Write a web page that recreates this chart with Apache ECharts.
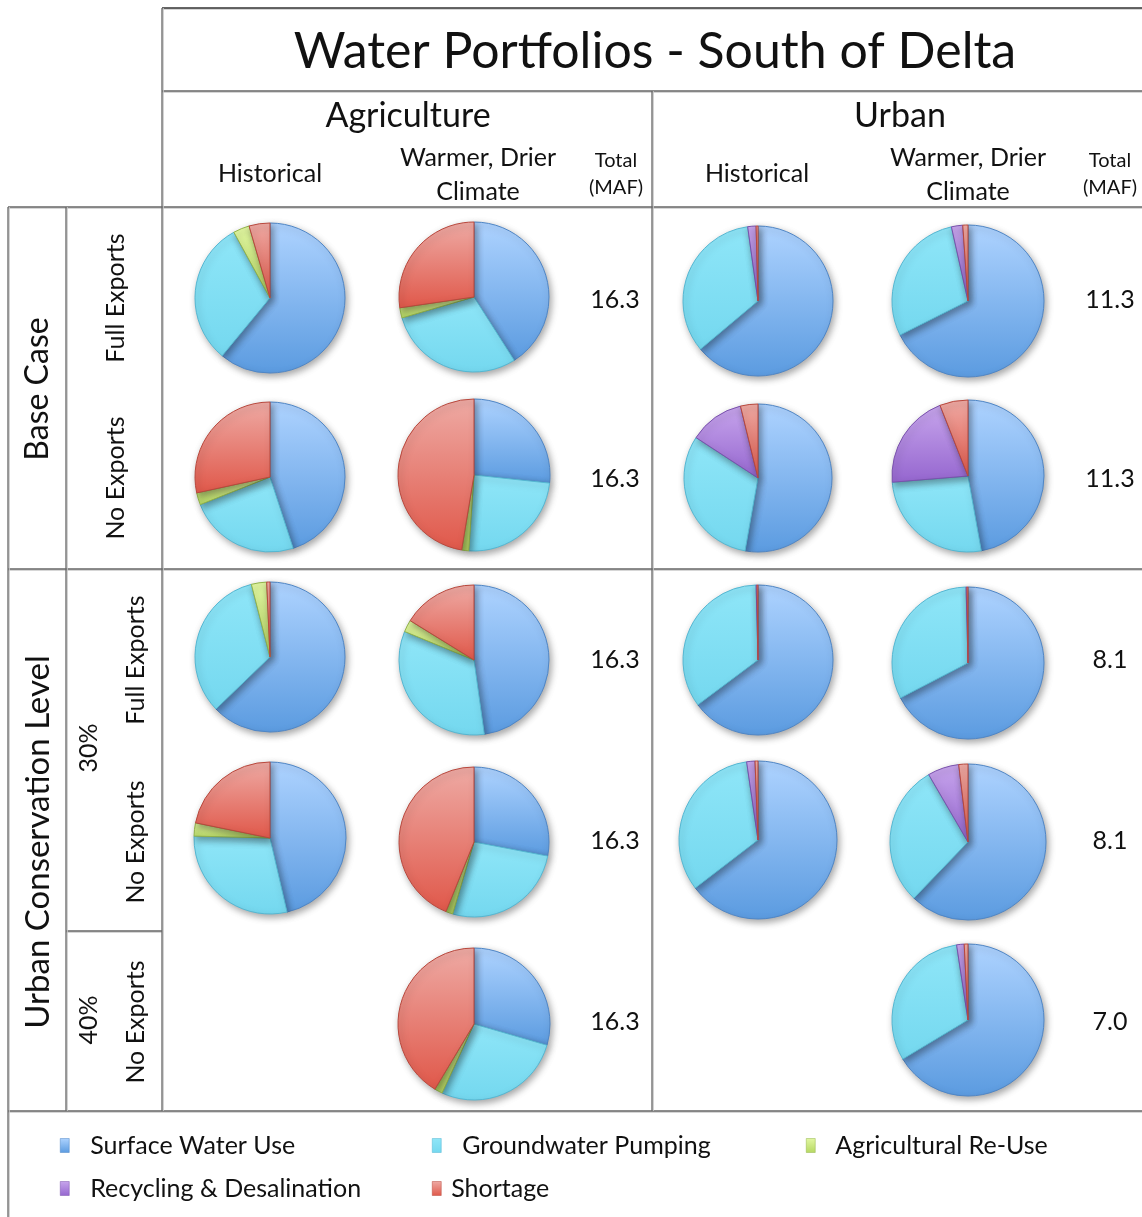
<!DOCTYPE html>
<html>
<head>
<meta charset="utf-8">
<title>Water Portfolios - South of Delta</title>
<script src="https://cdn.jsdelivr.net/npm/echarts@6/dist/echarts.min.js"></script>
<style>
  html, body { margin: 0; padding: 0; background: #ffffff; }
  #chart { width: 1142px; height: 1217px; }
</style>
</head>
<body>
<div id="chart"></div>
<script>
// Supply sources, in clockwise order from 12 o'clock
const sources = ['Surface Water Use', 'Groundwater Pumping', 'Agricultural Re-Use', 'Recycling & Desalination', 'Shortage'];

// Share of total demand (%) per source: [surface, groundwater, ag re-use, recycling, shortage]
const agHistBaseFull   = [61.0, 31.0, 3.5, 0, 4.5];
const agWarmBaseFull   = [41.0, 29.5, 2.2, 0, 27.3];
const agHistBaseNo     = [45.0, 24.0, 2.6, 0, 28.4];
const agWarmBaseNo     = [26.7, 24.4, 1.5, 0, 47.4];
const agHist30Full     = [62.8, 33.2, 3.3, 0, 0.7];
const agWarm30Full     = [47.8, 33.4, 2.6, 0, 16.2];
const agHist30No       = [46.4, 29.0, 2.8, 0, 21.8];
const agWarm30No       = [28.0, 26.6, 1.5, 0, 43.9];
const agWarm40No       = [29.5, 27.4, 1.7, 0, 41.4];

const urbHistBaseFull  = [63.9, 33.9, 0, 1.8, 0.4];
const urbWarmBaseFull  = [67.6, 28.9, 0, 2.4, 1.1];
const urbHistBaseNo    = [52.8, 31.4, 0, 12.0, 3.8];
const urbWarmBaseNo    = [47.2, 26.5, 0, 20.3, 6.0];
const urbHist30Full    = [64.8, 34.8, 0, 0.2, 0.2];
const urbWarm30Full    = [67.4, 32.2, 0, 0.2, 0.2];
const urbHist30No      = [64.6, 33.1, 0, 1.7, 0.6];
const urbWarm30No      = [62.2, 29.4, 0, 6.5, 1.9];
const urbWarm40No      = [66.4, 31.2, 0, 1.6, 0.8];

// Totals (MAF) per scenario row: Base/Full, Base/No, 30%/Full, 30%/No, 40%/No
const agTotals    = ['16.3', '16.3', '16.3', '16.3', '16.3'];
const urbanTotals = ['11.3', '11.3', '8.1', '8.1', '7.0'];

// ---- layout ----
const FONT = 'Lato, "Open Sans", sans-serif';
const colX = { agHist: 270, agWarm: 474, agTotal: 615, urbHist: 758, urbWarm: 968, urbTotal: 1110 };
const rowY = [299, 478, 659, 840, 1021];

// [values, column, row, centre y offset, radius]
const pies = [
  [agHistBaseFull,  'agHist', 0, -1, 75],
  [agWarmBaseFull,  'agWarm', 0, -2, 75],
  [agHistBaseNo,    'agHist', 1, -1, 75],
  [agWarmBaseNo,    'agWarm', 1, -3, 76],
  [agHist30Full,    'agHist', 2, -2, 75],
  [agWarm30Full,    'agWarm', 2,  1, 75],
  [agHist30No,      'agHist', 3, -2, 76],
  [agWarm30No,      'agWarm', 3,  2, 75],
  [agWarm40No,      'agWarm', 4,  3, 76],
  [urbHistBaseFull, 'urbHist', 0, 2, 75],
  [urbWarmBaseFull, 'urbWarm', 0, 2, 76],
  [urbHistBaseNo,   'urbHist', 1, 0, 74],
  [urbWarmBaseNo,   'urbWarm', 1, -2, 76],
  [urbHist30Full,   'urbHist', 2, 1, 75],
  [urbWarm30Full,   'urbWarm', 2, 4, 76],
  [urbHist30No,     'urbHist', 3, 0, 79],
  [urbWarm30No,     'urbWarm', 3, 2, 78],
  [urbWarm40No,     'urbWarm', 4, -1, 76]
];

// Fill gradient (top -> bottom) and edge colour for each source
const palette = [
  { top: '#aed3ff', bottom: '#5b9be0', edge: '#4f86c6' },
  { top: '#8fe6f8', bottom: '#74d8ef', edge: '#55b7d2' },
  { top: '#e2f7a2', bottom: '#b6d862', edge: '#93b44a' },
  { top: '#c7a5ec', bottom: '#9566cf', edge: '#7a52ad' },
  { top: '#eeaaa4', bottom: '#e0584a', edge: '#b8483d' }
];

function fillFor(i) {
  return new echarts.graphic.LinearGradient(0, 0, 0, 1, [
    { offset: 0, color: palette[i].top },
    { offset: 1, color: palette[i].bottom }
  ]);
}

const pieSeries = pies.map(function (p) {
  const values = p[0];
  const data = [];
  values.forEach(function (v, i) {
    if (v > 0) {
      data.push({
        name: sources[i],
        value: v,
        itemStyle: { color: fillFor(i), borderColor: palette[i].edge }
      });
    }
  });
  return {
    type: 'pie',
    center: [colX[p[1]], rowY[p[2]] + p[3]],
    radius: p[4],
    startAngle: 90,
    clockwise: true,
    avoidLabelOverlap: false,
    label: { show: false },
    labelLine: { show: false },
    emphasis: { disabled: true },
    itemStyle: {
      borderWidth: 1,
      shadowBlur: 7,
      shadowColor: 'rgba(0,0,0,0.35)',
      shadowOffsetX: 2,
      shadowOffsetY: 3
    },
    data: data
  };
});

// ---- table rules ----
function hLine(y, x1, x2, c) {
  return [
    { type: 'line', silent: true, shape: { x1: x1, y1: y + 1.2, x2: x2, y2: y + 1.2 }, style: { stroke: '#c8c8c8', lineWidth: 1.2 } },
    { type: 'line', silent: true, shape: { x1: x1, y1: y, x2: x2, y2: y }, style: { stroke: c || '#666', lineWidth: 1.3 } }
  ];
}
function vLine(x, y1, y2, c) {
  return [
    { type: 'line', silent: true, shape: { x1: x + 1.2, y1: y1, x2: x + 1.2, y2: y2 }, style: { stroke: '#c8c8c8', lineWidth: 1.2 } },
    { type: 'line', silent: true, shape: { x1: x, y1: y1, x2: x, y2: y2 }, style: { stroke: c || '#666', lineWidth: 1.3 } }
  ];
}
function txt(s, x, y, size, rot) {
  return {
    type: 'text', silent: true, x: x, y: y, rotation: rot || 0,
    style: { text: s, font: size + 'px ' + FONT, fill: '#111', align: 'center', verticalAlign: 'middle' }
  };
}
const ROT = Math.PI / 2;

let graphics = [];
graphics = graphics.concat(
  hLine(8, 162, 1142, '#333'),
  hLine(91, 162, 1142),
  hLine(207, 8, 1142),
  hLine(569, 8, 1142),
  hLine(931, 66, 162),
  hLine(1111, 8, 1142),
  vLine(8, 207, 1217),
  vLine(66, 207, 1111),
  vLine(162, 8, 1111),
  vLine(652, 91, 1111)
);

graphics.push(
  txt('Water Portfolios - South of Delta', 655, 52, 50),
  txt('Agriculture', 408, 116, 34),
  txt('Urban', 900, 116, 34),
  txt('Historical', 270, 174, 25),
  txt('Warmer, Drier', 478, 158, 25),
  txt('Climate', 478, 192, 25),
  txt('Total', 616, 161, 20),
  txt('(MAF)', 616, 188, 20),
  txt('Historical', 757, 174, 25),
  txt('Warmer, Drier', 968, 158, 25),
  txt('Climate', 968, 192, 25),
  txt('Total', 1110, 161, 20),
  txt('(MAF)', 1110, 188, 20),
  txt('Base Case', 38, 389, 32, ROT),
  txt('Full Exports', 116, 298, 25, ROT),
  txt('No Exports', 116, 478, 25, ROT),
  txt('Urban Conservation Level', 38, 842, 33, ROT),
  txt('30%', 89, 748, 25, ROT),
  txt('Full Exports', 136, 660, 25, ROT),
  txt('No Exports', 136, 842, 25, ROT),
  txt('40%', 89, 1020, 25, ROT),
  txt('No Exports', 136, 1022, 25, ROT)
);
agTotals.forEach(function (t, i) { graphics.push(txt(t, colX.agTotal, rowY[i] + 1, 25)); });
urbanTotals.forEach(function (t, i) { graphics.push(txt(t, colX.urbTotal, rowY[i] + 1, 25)); });

// ---- legend: one component per entry ----
const legendSpots = [
  { left: 60, top: 1133, pad: 16 },
  { left: 432, top: 1133, pad: 16 },
  { left: 806, top: 1133, pad: 15 },
  { left: 60, top: 1176, pad: 16 },
  { left: 432, top: 1176, pad: 5 }
];
const legends = sources.map(function (name, i) {
  return {
    data: [{ name: name, itemStyle: { color: fillFor(i), borderColor: palette[i].edge, borderWidth: 0.5 } }],
    left: legendSpots[i].left,
    top: legendSpots[i].top,
    padding: 0,
    icon: 'rect',
    itemWidth: 9,
    itemHeight: 14,
    selectedMode: false,
    textStyle: { fontFamily: FONT, fontSize: 25, color: '#111', padding: [0, 0, 0, legendSpots[i].pad] }
  };
});

const chart = echarts.init(document.getElementById('chart'), null, { renderer: 'canvas' });
chart.setOption({
  animation: false,
  backgroundColor: '#ffffff',
  legend: legends,
  graphic: { elements: graphics },
  series: pieSeries
});
</script>
</body>
</html>
